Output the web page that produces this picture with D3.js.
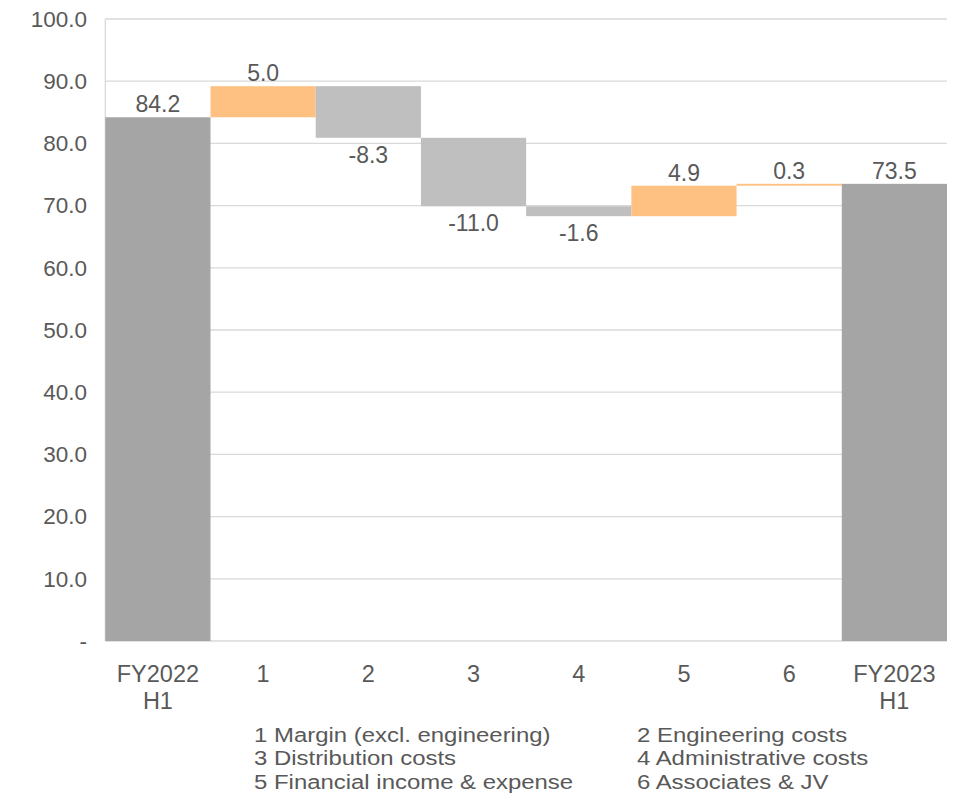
<!DOCTYPE html>
<html>
<head>
<meta charset="utf-8">
<script src="https://cdn.jsdelivr.net/npm/d3@7"></script>
<style>
  html, body { margin: 0; padding: 0; background: #ffffff; }
  svg { display: block; }
  text { font-family: "Liberation Sans", Arial, sans-serif; fill: #595959; }
</style>
</head>
<body>
<svg id="chart" width="963" height="805"></svg>
<script>
// Bridge categories (first line / second line of each axis label)
const categories = ["FY2022", "1", "2", "3", "4", "5", "6", "FY2023"];
const categorySub = ["H1", "", "", "", "", "", "", "H1"];
// Step values: first and last are totals, the rest are changes
const values = [84.2, 5.0, -8.3, -11.0, -1.6, 4.9, 0.3, 73.5];
const isTotal = [true, false, false, false, false, false, false, true];
const yTicks = [0, 10, 20, 30, 40, 50, 60, 70, 80, 90, 100];
// Key to the numbered steps, one array per column
const legendLeft = ["1 Margin (excl. engineering)", "3 Distribution costs", "5 Financial income & expense"];
const legendRight = ["2 Engineering costs", "4 Administrative costs", "6 Associates & JV"];

const colors = { total: "#a5a5a5", down: "#bfbfbf", up: "#ffc182", grid: "#d9d9d9" };

const svg = d3.select("#chart");
const plot = { left: 105.3, right: 947, top: 19, bottom: 641 };

const x = d3.scaleBand().domain(d3.range(categories.length)).range([plot.left, plot.right]).padding(0);
const y = d3.scaleLinear().domain([0, 100]).range([plot.bottom, plot.top]);

// Running start/end for each step
let running = 0;
const steps = values.map((v, i) => {
  let y0, y1;
  if (isTotal[i]) { y0 = 0; y1 = v; running = v; }
  else { y0 = running; y1 = running + v; running = y1; }
  return { i, v, y0, y1, total: isTotal[i] };
});

// Gridlines
svg.append("g").selectAll("line").data(yTicks).join("line")
  .attr("x1", plot.left).attr("x2", plot.right)
  .attr("y1", d => y(d)).attr("y2", d => y(d))
  .attr("stroke", colors.grid).attr("stroke-width", 1.3);
svg.append("line")
  .attr("x1", plot.left).attr("x2", plot.left).attr("y1", y(100)).attr("y2", y(0))
  .attr("stroke", colors.grid).attr("stroke-width", 1.3);

// One decimal, plain hyphen for negatives
const fmt = v => d3.format(".1f")(v).replace("\u2212", "-");

// Y axis labels
svg.append("g").selectAll("text").data(yTicks).join("text")
  .attr("x", 87).attr("y", d => y(d)).attr("dy", "0.35em")
  .attr("text-anchor", "end").style("font-size", "22.5px")
  .text(d => d === 0 ? "-" : fmt(d));

// Bars
svg.append("g").selectAll("rect").data(steps).join("rect")
  .attr("x", d => x(d.i))
  .attr("width", x.bandwidth())
  .attr("y", d => y(Math.max(d.y0, d.y1)))
  .attr("height", d => Math.max(1.5, Math.abs(y(d.y0) - y(d.y1))))
  .attr("fill", d => d.total ? colors.total : (d.v < 0 ? colors.down : colors.up));

// Value labels
svg.append("g").selectAll("text").data(steps).join("text")
  .attr("x", d => x(d.i) + x.bandwidth() / 2)
  .attr("y", d => d.v < 0 ? y(Math.min(d.y0, d.y1)) + 25 : y(Math.max(d.y0, d.y1)) - 5)
  .attr("text-anchor", "middle").style("font-size", "23px")
  .text(d => fmt(d.v));

// Category labels
const cat = svg.append("g").selectAll("text").data(categories).join("text")
  .attr("x", (d, i) => x(i) + x.bandwidth() / 2)
  .attr("y", 682)
  .attr("text-anchor", "middle").style("font-size", "23.5px");
cat.append("tspan").attr("x", (d, i) => x(i) + x.bandwidth() / 2).text(d => d);
cat.append("tspan").attr("x", (d, i) => x(i) + x.bandwidth() / 2).attr("dy", 27)
  .text((d, i) => categorySub[i]);

// Key below the chart: two columns of three lines, set slightly wide
const keyCols = svg.append("g").selectAll("g")
  .data([{ x: 254, lines: legendLeft }, { x: 637, lines: legendRight }])
  .join("g")
  .attr("transform", d => `translate(${d.x},0) scale(1.14,1)`);
keyCols.selectAll("text").data(d => d.lines).join("text")
  .attr("x", 0).attr("y", (d, i) => 742 + i * 23.5)
  .style("font-size", "21px")
  .text(d => d);
</script>
</body>
</html>
